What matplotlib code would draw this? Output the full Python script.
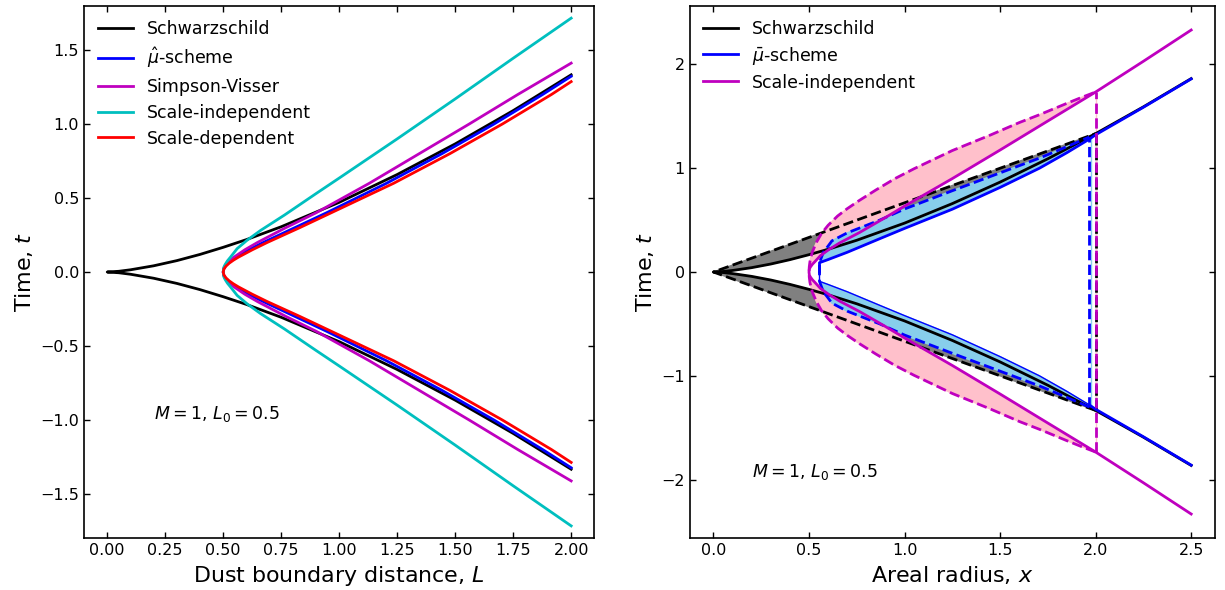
import numpy as np
import matplotlib
matplotlib.use("Agg")
import matplotlib.pyplot as plt

# ---------------- Left panel data (upper half, t >= 0; lower half is the mirror) ----------------
schw_L = [0.0, 0.05, 0.1, 0.2, 0.3, 0.4, 0.5, 0.6, 0.75, 1.0, 1.25, 1.5, 1.75, 2.0]
schw_t = [0.0, 0.005, 0.015, 0.042, 0.077, 0.119, 0.167, 0.219, 0.306, 0.471, 0.659, 0.866, 1.091, 1.333]

muhat_t = [0.0, 0.02, 0.04, 0.06, 0.08, 0.10, 0.15, 0.20, 0.30, 0.40, 0.60, 0.80, 1.00, 1.20, 1.323]
muhat_L = [0.5, 0.502, 0.509, 0.521, 0.536, 0.554, 0.609, 0.673, 0.809, 0.945, 1.204, 1.443, 1.667, 1.877, 2.0]

sv_t = [0.0, 0.02, 0.04, 0.06, 0.08, 0.10, 0.15, 0.20, 0.30, 0.40, 0.60, 0.80, 1.00, 1.20, 1.412]
sv_L = [0.5, 0.502, 0.508, 0.518, 0.531, 0.546, 0.593, 0.648, 0.770, 0.900, 1.130, 1.345, 1.560, 1.770, 2.0]

si_t = [0.0, 0.03, 0.05, 0.075, 0.10, 0.158, 0.215, 0.28, 0.385, 0.53, 0.635, 0.90, 1.17, 1.445, 1.716]
si_L = [0.5, 0.502, 0.508, 0.518, 0.531, 0.560, 0.603, 0.66, 0.764, 0.90, 1.0, 1.25, 1.50, 1.75, 2.0]

sd_t = [0.0, 0.02, 0.04, 0.06, 0.08, 0.10, 0.15, 0.20, 0.30, 0.40, 0.60, 0.80, 1.00, 1.20, 1.287]
sd_L = [0.5, 0.503, 0.512, 0.526, 0.544, 0.565, 0.625, 0.690, 0.830, 0.965, 1.235, 1.477, 1.703, 1.915, 2.0]

left_labels = ["Schwarzschild", r"$\hat{\mu}$-scheme", "Simpson-Visser", "Scale-independent", "Scale-dependent"]

# ---------------- Right panel data (upper half) ----------------
rs_x = [0.0, 0.05, 0.1, 0.2, 0.3, 0.4, 0.5, 0.6, 0.75, 1.0, 1.25, 1.5, 1.75, 2.0, 2.25, 2.5]
rs_t = [0.0, 0.005, 0.015, 0.042, 0.077, 0.119, 0.167, 0.219, 0.306, 0.471, 0.659, 0.866, 1.091, 1.333, 1.591, 1.863]
rs_dash_x = [0.0, 2.0]
rs_dash_t = [0.0, 1.333]

mb_x = [0.555, 0.555, 0.60, 0.70, 0.869, 1.0, 1.25, 1.5, 1.706, 1.85, 1.967, 2.0, 2.25, 2.5]
mb_t = [0.0, 0.09, 0.12, 0.19, 0.32, 0.42, 0.605, 0.815, 1.0, 1.15, 1.28, 1.322, 1.587, 1.86]
mb_dash_x = [0.555, 0.575, 0.60, 0.62, 0.70, 0.869, 1.0, 1.25, 1.5, 1.706, 1.85, 1.967]
mb_dash_t = [0.09, 0.19, 0.25, 0.30, 0.377, 0.499, 0.607, 0.783, 0.955, 1.097, 1.208, 1.30]

rsi_x = [0.5, 0.502, 0.508, 0.518, 0.531, 0.56, 0.603, 0.66, 0.764, 0.9, 1.0, 1.25, 1.5, 1.75, 2.0, 2.25, 2.5]
rsi_t = [0.0, 0.03, 0.05, 0.075, 0.10, 0.158, 0.215, 0.28, 0.38, 0.525, 0.635, 0.90, 1.175, 1.455, 1.734, 2.03, 2.331]
rsi_dash_x = [0.5, 0.5015, 0.505, 0.511, 0.519, 0.54, 0.565, 0.60, 0.65, 0.70, 0.764, 0.85, 0.95, 1.05,
              1.25, 1.45, 1.601, 1.706, 1.85, 1.932, 2.0]
rsi_dash_t = [0.0, 0.05, 0.10, 0.15, 0.20, 0.29, 0.37, 0.45, 0.54, 0.61, 0.69, 0.79, 0.90, 0.995,
              1.17, 1.32, 1.44, 1.515, 1.625, 1.686, 1.734]

right_labels = ["Schwarzschild", r"$\bar{\mu}$-scheme", "Scale-independent"]
note = r"$M = 1$, $L_0 = 0.5$"


def full(xu, tu):
    """Join the upper half with its mirror image (t -> -t)."""
    xu = np.asarray(xu, float)
    tu = np.asarray(tu, float)
    if tu[0] == 0:
        return np.concatenate([xu[::-1], xu[1:]]), np.concatenate([-tu[::-1], tu[1:]])
    return np.concatenate([xu[::-1], xu]), np.concatenate([-tu[::-1], tu])


fig = plt.figure(figsize=(12.25, 5.9), dpi=100)
axL = fig.add_axes([0.0686, 0.0876, 0.4166, 0.9027])
axR = fig.add_axes([0.5629, 0.0876, 0.4290, 0.9027])

LW = 2.0
for ax in (axL, axR):
    ax.tick_params(direction="in", top=True, right=True, labelsize=11.5, length=4.5, width=1.0)
    for s in ax.spines.values():
        s.set_linewidth(1.2)

# ---- left ----
for (xs, ts, c, lab) in [(schw_L, schw_t, "k", left_labels[0]),
                         (muhat_L, muhat_t, "b", left_labels[1]),
                         (sv_L, sv_t, "m", left_labels[2]),
                         (si_L, si_t, "c", left_labels[3]),
                         (sd_L, sd_t, "r", left_labels[4])]:
    X, T = full(xs, ts)
    axL.plot(X, T, color=c, lw=LW, label=lab)

axL.set_xlim(-0.1, 2.1)
axL.set_ylim(-1.8, 1.8)
axL.set_xticks(np.arange(0, 2.01, 0.25))
axL.set_xlabel(r"Dust boundary distance, $L$", fontsize=15.9)
axL.set_ylabel(r"Time, $t$", fontsize=15.9)
axL.legend(loc="upper left", frameon=False, fontsize=12.5, handlelength=2.0,
           borderaxespad=0.4, labelspacing=0.45)
axL.text(0.2, -0.96, note, fontsize=12.5, va="center")

# ---- right: shaded regions ----
i2 = rs_x.index(2.0)
for sgn in (1, -1):
    px = list(rs_dash_x) + list(rs_x[:i2 + 1][::-1])
    pt = list(rs_dash_t) + list(rs_t[:i2 + 1][::-1])
    axR.fill(px, sgn * np.array(pt), color="gray", lw=1, zorder=1)
axR.plot([2.0, 2.0], [-rs_dash_t[-1], rs_dash_t[-1]], color="gray", lw=1, zorder=1)

n = rsi_x.index(2.0) + 1
for sgn in (1, -1):
    px = list(rsi_dash_x) + list(rsi_x[:n][::-1])
    pt = list(rsi_dash_t) + list(rsi_t[:n][::-1])
    axR.fill(px, sgn * np.array(pt), color="pink", lw=1, zorder=1.2)
axR.plot([2.0, 2.0], [-rsi_dash_t[-1], rsi_dash_t[-1]], color="pink", lw=1, zorder=1.2)

nb = mb_x.index(1.967) + 1
for sgn in (1, -1):
    px = list(mb_dash_x) + list(mb_x[1:nb][::-1])
    pt = list(mb_dash_t) + list(mb_t[1:nb][::-1])
    axR.fill(px, sgn * np.array(pt), color="skyblue", lw=1, zorder=1.4)
axR.plot([1.975, 1.975], [-mb_dash_t[-1], mb_dash_t[-1]], color="skyblue", lw=1, zorder=1.4)

# ---- right: lines ----
X, T = full(rs_x, rs_t)
axR.plot(X, T, color="k", lw=LW, label=right_labels[0], zorder=3)
X, T = full(rs_dash_x, rs_dash_t)
axR.plot(X, T, color="k", lw=LW, ls="--", zorder=3)
axR.plot([2.0, 2.0], [-rs_dash_t[-1], rs_dash_t[-1]], color="k", lw=LW, ls="--", zorder=3)

mbx = np.array(mb_x)
mbt = np.array(mb_t)
axR.plot(mbx, mbt, color="b", lw=LW, label=right_labels[1], zorder=4)
axR.plot(mbx[:nb], -mbt[:nb], color="b", lw=1.0, zorder=4)
axR.plot(mbx[nb - 1:], -mbt[nb - 1:], color="b", lw=LW, zorder=4)
X, T = full(mb_dash_x, mb_dash_t)
axR.plot(X, T, color="b", lw=LW, ls="--", zorder=4)
axR.plot([1.967, 1.967], [-mb_dash_t[-1], mb_dash_t[-1]], color="b", lw=LW, ls="--", zorder=4)

X, T = full(rsi_x, rsi_t)
axR.plot(X, T, color="m", lw=LW, label=right_labels[2], zorder=5)
X, T = full(rsi_dash_x, rsi_dash_t)
axR.plot(X, T, color="m", lw=LW, ls="--", zorder=5)
axR.plot([2.0, 2.0], [-rsi_dash_t[-1], rsi_dash_t[-1]], color="m", lw=LW, ls="--", zorder=5)

axR.set_xlim(-0.125, 2.625)
axR.set_ylim(-2.565, 2.565)
axR.set_xticks([0, 0.5, 1.0, 1.5, 2.0, 2.5])
axR.set_yticks([-2, -1, 0, 1, 2])
axR.set_xlabel(r"Areal radius, $x$", fontsize=15.9)
axR.set_ylabel(r"Time, $t$", fontsize=15.9)
axR.legend(loc="upper left", frameon=False, fontsize=12.5, handlelength=2.0,
           borderaxespad=0.4, labelspacing=0.4)
axR.text(0.2, -1.93, note, fontsize=12.5, va="center")

fig.savefig("out.png", dpi=100)
